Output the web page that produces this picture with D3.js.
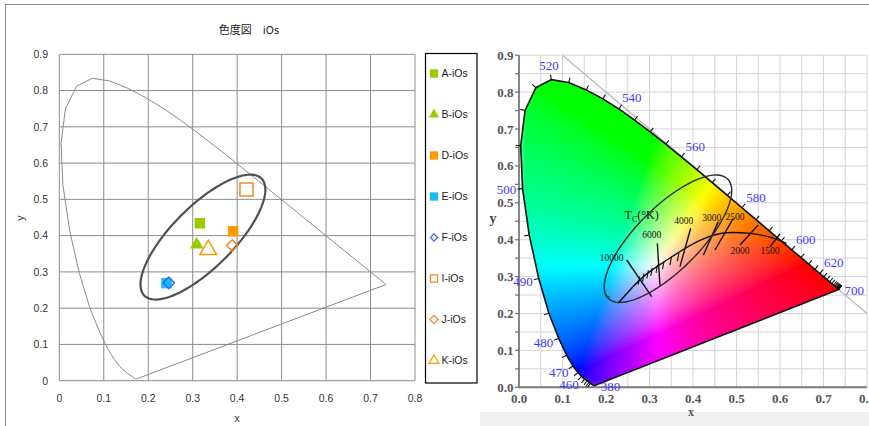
<!DOCTYPE html>
<html><head><meta charset="utf-8">
<script src="https://cdn.jsdelivr.net/npm/d3@7"></script>
<style>body{margin:0;background:#fff}svg{display:block}</style>
</head><body>
<svg id="chart" width="869" height="426"></svg>
<script>
// ---------- DATA ----------
// CIE 1931 spectral locus
const wavelengths = [380,385,390,395,400,405,410,415,420,425,430,435,440,445,450,455,460,465,470,475,480,485,490,495,500,505,510,515,520,525,530,535,540,545,550,555,560,565,570,575,580,585,590,595,600,605,610,615,620,625,630,635,640,645,650,655,660,665,670,675,680,685,690,695,700];
const locusX = [0.1741,0.1740,0.1738,0.1736,0.1733,0.1730,0.1726,0.1721,0.1714,0.1703,0.1689,0.1669,0.1644,0.1611,0.1566,0.1510,0.1440,0.1355,0.1241,0.1096,0.0913,0.0687,0.0454,0.0235,0.0082,0.0039,0.0139,0.0389,0.0743,0.1142,0.1547,0.1929,0.2296,0.2658,0.3016,0.3373,0.3731,0.4087,0.4441,0.4788,0.5125,0.5448,0.5752,0.6029,0.6270,0.6482,0.6658,0.6801,0.6915,0.7006,0.7079,0.7140,0.7190,0.7230,0.7260,0.7283,0.7300,0.7311,0.7320,0.7327,0.7334,0.7340,0.7344,0.7346,0.7347];
const locusY = [0.0050,0.0050,0.0049,0.0049,0.0048,0.0048,0.0048,0.0048,0.0051,0.0058,0.0069,0.0086,0.0109,0.0138,0.0177,0.0227,0.0297,0.0399,0.0578,0.0868,0.1327,0.2007,0.2950,0.4127,0.5384,0.6548,0.7502,0.8120,0.8338,0.8262,0.8059,0.7816,0.7543,0.7243,0.6923,0.6589,0.6245,0.5896,0.5547,0.5202,0.4866,0.4544,0.4242,0.3965,0.3725,0.3514,0.3340,0.3197,0.3083,0.2993,0.2920,0.2859,0.2809,0.2770,0.2740,0.2717,0.2700,0.2689,0.2680,0.2673,0.2666,0.2660,0.2656,0.2654,0.2653];
const labelWavelengths = [380,460,470,480,490,500,520,540,560,580,600,620,700];

// left chart
const leftTitle = "色度図　iOs";
const leftXTicks = [0,0.1,0.2,0.3,0.4,0.5,0.6,0.7,0.8];
const leftXTickLabels = ["0","0.1","0.2","0.3","0.4","0.5","0.6","0.7","0.8"];
const leftYTicks = [0,0.1,0.2,0.3,0.4,0.5,0.6,0.7,0.8,0.9];
const leftYTickLabels = ["0","0.1","0.2","0.3","0.4","0.5","0.6","0.7","0.8","0.9"];
const seriesNames = ["A-iOs","B-iOs","D-iOs","E-iOs","F-iOs","I-iOs","J-iOs","K-iOs"];
const seriesX = [0.316,0.309,0.391,0.241,0.246,0.421,0.389,0.335];
const seriesY = [0.434,0.375,0.412,0.269,0.270,0.527,0.373,0.361];
const leftEllipseCenter = [0.323,0.396];
const leftEllipseMajor = [0.1317,0.1615];
const leftEllipseMinor = [-0.0488,0.0598];

// right chart
const rightXTicks = [0,0.1,0.2,0.3,0.4,0.5,0.6,0.7,0.8];
const rightXTickLabels = ["0.0","0.1","0.2","0.3","0.4","0.5","0.6","0.7","0.8"];
const rightYTicks = [0,0.1,0.2,0.3,0.4,0.5,0.6,0.7,0.8,0.9];
const rightYTickLabels = ["0.0","0.1","0.2","0.3","0.4","0.5","0.6","0.7","0.8","0.9"];
const rightGridX = [0,0.05,0.1,0.15,0.2,0.25,0.3,0.35,0.4,0.45,0.5,0.55,0.6,0.65,0.7,0.75,0.8];
const rightGridY = [0,0.05,0.1,0.15,0.2,0.25,0.3,0.35,0.4,0.45,0.5,0.55,0.6,0.65,0.7,0.75,0.8,0.85,0.9];
const planckX = [0.228,0.286,0.340,0.416,0.470,0.531,0.577,0.615];
const planckY = [0.228,0.300,0.345,0.398,0.418,0.417,0.407,0.390];
const planckMinorX = [0.274,0.284,0.294,0.303,0.315,0.330,0.347,0.364];
const planckMinorY = [0.289,0.298,0.306,0.313,0.321,0.331,0.342,0.353];
const isoLabels = ["10000","6000","4000","3000","2500","2000","1500"];
const isoX1 = [0.2476,0.318,0.3947,0.458,0.4926,0.550,0.600];
const isoY1 = [0.345,0.390,0.431,0.449,0.458,0.440,0.4157];
const isoX2 = [0.305,0.324,0.370,0.424,0.4506,0.508,0.577];
const isoY2 = [0.2455,0.277,0.327,0.3585,0.3721,0.3856,0.3805];
const isoLabelX = [0.213,0.305,0.379,0.443,0.4966,0.508,0.577];
const isoLabelY = [0.350,0.413,0.451,0.460,0.4615,0.371,0.371];
const tcLabelPos = [0.282,0.467];
const infLabelPos = [0.205,0.247];
const rightEllipseCenter = [0.3425,0.4027];
const rightEllipseMajor = [0.1372,0.1617];
const rightEllipseMinor = [-0.0514,0.0605];

// ---------- DRAW ----------
const svg = d3.select("#chart");
const sans = "'Liberation Sans', Arial, sans-serif";
const serif = "'Liberation Serif', 'Times New Roman', serif";

// outer frame
svg.append("line").attr("x1",5).attr("x2",869).attr("y1",4.5).attr("y2",4.5).attr("stroke","#8a8a8a");
svg.append("line").attr("x1",5.5).attr("x2",5.5).attr("y1",4).attr("y2",426).attr("stroke","#8a8a8a");

// ===== LEFT CHART =====
const xL = d3.scaleLinear().domain([0,0.8]).range([59.3,415]);
const yL = d3.scaleLinear().domain([0,0.9]).range([380.7,54.3]);
const gL = svg.append("g");

gL.selectAll("line.gx").data(leftXTicks).join("line")
  .attr("x1",d=>xL(d)).attr("x2",d=>xL(d)).attr("y1",yL(0)).attr("y2",yL(0.9))
  .attr("stroke","#8c8c8c").attr("stroke-width",1);
gL.selectAll("line.gy").data(leftYTicks).join("line")
  .attr("y1",d=>yL(d)).attr("y2",d=>yL(d)).attr("x1",xL(0)).attr("x2",xL(0.8))
  .attr("stroke","#8c8c8c").attr("stroke-width",1);

gL.selectAll("text.tx").data(leftXTicks).join("text")
  .attr("x",d=>xL(d)).attr("y",402).attr("text-anchor","middle")
  .attr("font-family",sans).attr("font-size",10.5).attr("fill","#333")
  .text((d,i)=>leftXTickLabels[i]);
gL.selectAll("text.ty").data(leftYTicks).join("text")
  .attr("x",48).attr("y",d=>yL(d)+3.8).attr("text-anchor","end")
  .attr("font-family",sans).attr("font-size",10.5).attr("fill","#333")
  .text((d,i)=>leftYTickLabels[i]);

gL.append("text").attr("x",249).attr("y",34).attr("text-anchor","middle")
  .attr("font-family","'Noto Sans CJK JP', sans-serif").attr("font-size",11).attr("fill","#222")
  .text(leftTitle);
gL.append("text").attr("x",237).attr("y",422).attr("text-anchor","middle")
  .attr("font-family",sans).attr("font-size",10.5).attr("fill","#333").text("x");
gL.append("text").attr("transform","translate(24,218) rotate(-90)").attr("text-anchor","middle")
  .attr("font-family",sans).attr("font-size",10.5).attr("fill","#333").text("y");

const locusPts = wavelengths.map((w,i)=>[locusX[i],locusY[i]]);
const lineL = d3.line().x(d=>xL(d[0])).y(d=>yL(d[1]));
gL.append("path").attr("d",lineL(locusPts)+"Z").attr("fill","none").attr("stroke","#8a8a8a").attr("stroke-width",1);

function ellipsePts(c,u,v){
  return d3.range(0,361,3).map(a=>{const t=a*Math.PI/180;return [c[0]+u[0]*Math.cos(t)+v[0]*Math.sin(t), c[1]+u[1]*Math.cos(t)+v[1]*Math.sin(t)];});
}
gL.append("path").attr("d",lineL(ellipsePts(leftEllipseCenter,leftEllipseMajor,leftEllipseMinor)))
  .attr("fill","none").attr("stroke","#505050").attr("stroke-width",2.2);

// marker styles
const mStyle = [
  {t:"sq",s:110,fill:"#99cc00",stroke:"none",ls:70},
  {t:"tri",s:80,fill:"#99cc00",stroke:"none",ls:45},
  {t:"sq",s:110,fill:"#ff9900",stroke:"none",ls:70},
  {t:"sq",s:110,fill:"#19bff2",stroke:"none",ls:70},
  {t:"dia",s:64,fill:"none",stroke:"#3366ff",ls:26},
  {t:"sq",s:170,fill:"none",stroke:"#f5862a",ls:50},
  {t:"dia",s:64,fill:"none",stroke:"#f5862a",ls:34},
  {t:"tri",s:120,fill:"none",stroke:"#ff9900",ls:42}
];
function symPath(st,size){
  const type = st.t==="tri"?d3.symbolTriangle:d3.symbolSquare;
  return d3.symbol().type(type).size(size)();
}
const gPts = gL.append("g");
seriesNames.forEach((n,i)=>{
  const st = mStyle[i];
  gPts.append("path").attr("d",symPath(st,st.s))
    .attr("transform",`translate(${xL(seriesX[i])},${yL(seriesY[i])})`+(st.t==="dia"?" rotate(45)":""))
    .attr("fill",st.fill).attr("stroke",st.stroke).attr("stroke-width",1.5);
});

// legend
const lg = gL.append("g");
lg.append("rect").attr("x",425.5).attr("y",53.5).attr("width",51.5).attr("height",329.5)
  .attr("fill","#fff").attr("stroke","#000").attr("stroke-width",1.2);
seriesNames.forEach((n,i)=>{
  const st = mStyle[i], ly = 73.5 + i*41;
  lg.append("path").attr("d",symPath(st,st.ls))
    .attr("transform",`translate(434,${ly})`+(st.t==="dia"?" rotate(45)":""))
    .attr("fill",st.fill).attr("stroke",st.stroke).attr("stroke-width",1.2);
  lg.append("text").attr("x",441.5).attr("y",ly+3.8).attr("font-family",sans)
    .attr("font-size",10.5).attr("fill","#222").text(n);
});

// ===== RIGHT CHART =====
const xR = d3.scaleLinear().domain([0,0.8]).range([519,867]);
const yR = d3.scaleLinear().domain([0,0.9]).range([387.3,55.2]);
const gR = svg.append("g");
gR.append("rect").attr("x",480).attr("y",412).attr("width",389).attr("height",14).attr("fill","#f1f1f1");

gR.selectAll("line.rgx").data(rightGridX).join("line")
  .attr("x1",d=>xR(d)).attr("x2",d=>xR(d)).attr("y1",yR(0)).attr("y2",yR(0.9))
  .attr("stroke","#d3d3dc").attr("stroke-width",1);
gR.selectAll("line.rgy").data(rightGridY).join("line")
  .attr("y1",d=>yR(d)).attr("y2",d=>yR(d)).attr("x1",xR(0)).attr("x2",xR(0.8))
  .attr("stroke","#d3d3dc").attr("stroke-width",1);

// x + y = 1 line
gR.append("line").attr("x1",xR(0.1)).attr("y1",yR(0.9)).attr("x2",xR(0.8)).attr("y2",yR(0.2))
  .attr("stroke","#b8b8b8").attr("stroke-width",1.2);

// gamut fill (sRGB primaries, smoothed)
const px0 = Math.floor(xR(0)), py0 = Math.floor(yR(0.9));
const cw = Math.ceil(xR(0.8)) - px0, ch = Math.ceil(yR(0)) - py0;
const canvas = document.createElement("canvas");
canvas.width = cw; canvas.height = ch;
const ctx = canvas.getContext("2d");
const img = ctx.createImageData(cw,ch);
for(let j=0;j<ch;j++){
  for(let i=0;i<cw;i++){
    const x = xR.invert(px0+i+0.5), y = Math.max(yR.invert(py0+j+0.5),0.002);
    const X = x/y, Y = 1, Z = (1-x-y)/y;
    let r = 3.2406*X-1.5372*Y-0.4986*Z;
    let g = -0.9689*X+1.8758*Y+0.0415*Z;
    let b = 0.0557*X-0.2040*Y+1.0570*Z;
    r=Math.max(r,0); g=Math.max(g,0); b=Math.max(b,0);
    const m = Math.max(r,g,b,1e-6);
    const k = (j*cw+i)*4;
    img.data[k]=Math.round(255*Math.pow(r/m,0.62));
    img.data[k+1]=Math.round(255*Math.pow(g/m,0.62));
    img.data[k+2]=Math.round(255*Math.pow(b/m,0.62));
    img.data[k+3]=255;
  }
}
ctx.putImageData(img,0,0);
const lineR = d3.line().x(d=>xR(d[0])).y(d=>yR(d[1]));
const defs = svg.append("defs");
defs.append("clipPath").attr("id","gamutClip")
  .append("path").attr("d",lineR(locusPts)+"Z");
defs.append("filter").attr("id","soft").attr("x",0).attr("y",0).attr("width",1).attr("height",1)
  .append("feGaussianBlur").attr("stdDeviation",3.5).attr("edgeMode","duplicate");
gR.append("g").attr("clip-path","url(#gamutClip)")
  .append("image").attr("href",canvas.toDataURL()).attr("x",px0).attr("y",py0)
  .attr("width",cw).attr("height",ch).attr("filter","url(#soft)");

// axes
gR.append("line").attr("x1",xR(0)).attr("x2",xR(0)).attr("y1",yR(0.9)).attr("y2",yR(0)+1)
  .attr("stroke","#6e6e6e").attr("stroke-width",1.6);
gR.append("line").attr("x1",xR(0)).attr("x2",xR(0.8)).attr("y1",yR(0)).attr("y2",yR(0))
  .attr("stroke","#7a7a7a").attr("stroke-width",2);
gR.selectAll("line.yt").data(rightGridY).join("line")
  .attr("x1",xR(0)-4).attr("x2",xR(0)).attr("y1",d=>yR(d)).attr("y2",d=>yR(d))
  .attr("stroke","#6e6e6e").attr("stroke-width",1.2);
gR.selectAll("text.rtx").data(rightXTicks).join("text")
  .attr("x",d=>xR(d)).attr("y",403).attr("text-anchor","middle")
  .attr("font-family",serif).attr("font-weight","bold").attr("font-size",13).attr("fill","#555")
  .text((d,i)=>rightXTickLabels[i]);
gR.selectAll("text.rty").data(rightYTicks).join("text")
  .attr("x",513.5).attr("y",d=>yR(d)+4.5).attr("text-anchor","end")
  .attr("font-family",serif).attr("font-weight","bold").attr("font-size",13).attr("fill","#555")
  .text((d,i)=>rightYTickLabels[i]);
gR.append("text").attr("x",691).attr("y",416).attr("text-anchor","middle")
  .attr("font-family",serif).attr("font-weight","bold").attr("font-size",12).attr("fill","#555").text("x");
gR.append("text").attr("x",493).attr("y",223).attr("text-anchor","middle")
  .attr("font-family",serif).attr("font-weight","bold").attr("font-size",14).attr("fill","#444").text("y");

// locus outline
gR.append("path").attr("d",lineR(locusPts)+"Z").attr("fill","none").attr("stroke","#111").attr("stroke-width",1.6);

// wavelength ticks and labels
const P = locusPts.map(d=>[xR(d[0]),yR(d[1])]);
const wp = [xR(0.3127),yR(0.329)];
function normalAt(i){
  const a = P[Math.max(i-1,0)], b = P[Math.min(i+1,P.length-1)];
  let tx=b[0]-a[0], ty=b[1]-a[1]; const L=Math.hypot(tx,ty)||1; tx/=L; ty/=L;
  let nx=-ty, ny=tx;
  if((P[i][0]-wp[0])*nx+(P[i][1]-wp[1])*ny<0){nx=-nx;ny=-ny;}
  return [nx,ny];
}
wavelengths.forEach((w,i)=>{
  if(w<440 || w>695) return;
  const n = normalAt(i), p = P[i];
  gR.append("line").attr("x1",p[0]).attr("y1",p[1]).attr("x2",p[0]+n[0]*5).attr("y2",p[1]+n[1]*5)
    .attr("stroke","#111").attr("stroke-width",1.1);
});
labelWavelengths.forEach(w=>{
  const i = wavelengths.indexOf(w), p = P[i];
  let lx, ly, anchor="middle";
  if(w===380 || w===700){ lx=p[0]+6; ly=p[1]+1; anchor="start"; }
  else {
    const n=normalAt(i), left = n[0] < -0.3;
    const d = left ? 11 : 14;
    lx=p[0]+n[0]*d+(Math.abs(n[0])>0.3?Math.sign(n[0])*5:0); ly=p[1]+n[1]*d;
  }
  gR.append("text").attr("x",lx).attr("y",ly).attr("dy","0.35em").attr("text-anchor",anchor)
    .attr("font-family",serif).attr("font-size",13).attr("fill","#3b3bff").text(w);
});

// Planckian locus
const planckPts = planckX.map((x,i)=>[x,planckY[i]]);
gR.append("path").attr("d",d3.line().x(d=>xR(d[0])).y(d=>yR(d[1])).curve(d3.curveCatmullRom)(planckPts))
  .attr("fill","none").attr("stroke","#111").attr("stroke-width",1.4);
planckMinorX.forEach((x,i)=>{
  gR.append("line").attr("x1",xR(x)).attr("x2",xR(x)+1.5).attr("y1",yR(planckMinorY[i])+4).attr("y2",yR(planckMinorY[i])-4)
    .attr("stroke","#111").attr("stroke-width",1.1);
});
isoLabels.forEach((lab,i)=>{
  gR.append("line").attr("x1",xR(isoX1[i])).attr("y1",yR(isoY1[i])).attr("x2",xR(isoX2[i])).attr("y2",yR(isoY2[i]))
    .attr("stroke","#111").attr("stroke-width",1.4);
  gR.append("text").attr("x",xR(isoLabelX[i])).attr("y",yR(isoLabelY[i])).attr("dy","0.35em")
    .attr("text-anchor","middle").attr("font-family",serif).attr("font-size",9.5).attr("fill","#111").text(lab);
});
const tc = gR.append("text").attr("x",xR(tcLabelPos[0])).attr("y",yR(tcLabelPos[1])).attr("dy","0.35em")
  .attr("text-anchor","middle").attr("font-family",serif).attr("font-size",12).attr("fill","#111");
tc.append("tspan").text("T");
tc.append("tspan").attr("font-size",8).attr("dy","3").text("C");
tc.append("tspan").attr("dy","-3").text("(°K)");
gR.append("text").attr("x",xR(infLabelPos[0])).attr("y",yR(infLabelPos[1])).attr("dy","0.35em")
  .attr("text-anchor","middle").attr("font-family",serif).attr("font-size",7).attr("fill","#111").text("∞");

// right ellipse
gR.append("path").attr("d",lineR(ellipsePts(rightEllipseCenter,rightEllipseMajor,rightEllipseMinor)))
  .attr("fill","none").attr("stroke","#2a2a2a").attr("stroke-width",1.4);
</script>
</body></html>
